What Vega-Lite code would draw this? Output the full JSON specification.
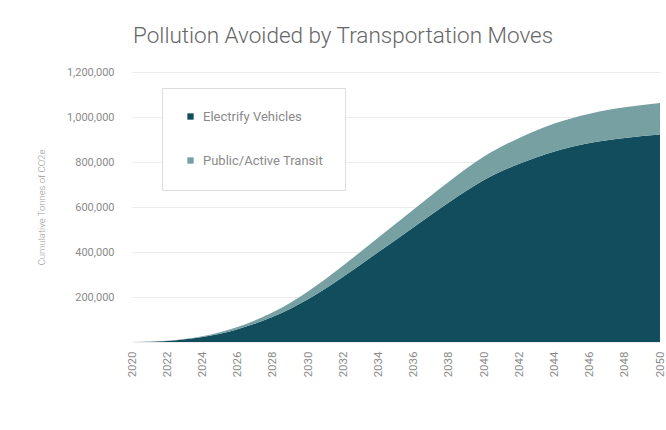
{
  "$schema": "https://vega.github.io/schema/vega-lite/v6.json",
  "autosize": "none",
  "width": 528,
  "height": 270,
  "padding": {"left": 132, "top": 72, "right": 6, "bottom": 88},
  "background": "white",
  "title": {
    "text": "Pollution Avoided by Transportation Moves",
    "anchor": "start",
    "frame": "group",
    "offset": 19,
    "font": "Roboto",
    "fontWeight": 300,
    "fontSize": 22.5,
    "color": "#666666",
    "dx": 1
  },
  "data": {
    "values": [
      {"year": 2020, "series": "Electrify Vehicles", "tonnes": 0},
      {"year": 2022, "series": "Electrify Vehicles", "tonnes": 5000},
      {"year": 2024, "series": "Electrify Vehicles", "tonnes": 22000},
      {"year": 2026, "series": "Electrify Vehicles", "tonnes": 57000},
      {"year": 2028, "series": "Electrify Vehicles", "tonnes": 112000},
      {"year": 2030, "series": "Electrify Vehicles", "tonnes": 190000},
      {"year": 2032, "series": "Electrify Vehicles", "tonnes": 290000},
      {"year": 2034, "series": "Electrify Vehicles", "tonnes": 400000},
      {"year": 2036, "series": "Electrify Vehicles", "tonnes": 510000},
      {"year": 2038, "series": "Electrify Vehicles", "tonnes": 620000},
      {"year": 2040, "series": "Electrify Vehicles", "tonnes": 720000},
      {"year": 2042, "series": "Electrify Vehicles", "tonnes": 792000},
      {"year": 2044, "series": "Electrify Vehicles", "tonnes": 847000},
      {"year": 2046, "series": "Electrify Vehicles", "tonnes": 884000},
      {"year": 2048, "series": "Electrify Vehicles", "tonnes": 907000},
      {"year": 2050, "series": "Electrify Vehicles", "tonnes": 922000},
      {"year": 2020, "series": "Public/Active Transit", "tonnes": 0},
      {"year": 2022, "series": "Public/Active Transit", "tonnes": 1000},
      {"year": 2024, "series": "Public/Active Transit", "tonnes": 4000},
      {"year": 2026, "series": "Public/Active Transit", "tonnes": 10000},
      {"year": 2028, "series": "Public/Active Transit", "tonnes": 20000},
      {"year": 2030, "series": "Public/Active Transit", "tonnes": 35000},
      {"year": 2032, "series": "Public/Active Transit", "tonnes": 50000},
      {"year": 2034, "series": "Public/Active Transit", "tonnes": 65000},
      {"year": 2036, "series": "Public/Active Transit", "tonnes": 79000},
      {"year": 2038, "series": "Public/Active Transit", "tonnes": 92000},
      {"year": 2040, "series": "Public/Active Transit", "tonnes": 104000},
      {"year": 2042, "series": "Public/Active Transit", "tonnes": 115000},
      {"year": 2044, "series": "Public/Active Transit", "tonnes": 124000},
      {"year": 2046, "series": "Public/Active Transit", "tonnes": 131000},
      {"year": 2048, "series": "Public/Active Transit", "tonnes": 136000},
      {"year": 2050, "series": "Public/Active Transit", "tonnes": 140000}
    ]
  },
  "mark": {"type": "area", "interpolate": "monotone"},
  "encoding": {
    "x": {
      "field": "year",
      "type": "quantitative",
      "scale": {"domain": [2020, 2050], "nice": false, "zero": false},
      "axis": {
        "values": [2020, 2022, 2024, 2026, 2028, 2030, 2032, 2034, 2036, 2038, 2040, 2042, 2044, 2046, 2048, 2050],
        "format": "d",
        "title": null,
        "labelAngle": -90,
        "labelFont": "Roboto",
        "labelFontSize": 11.5,
        "labelColor": "#8a8a8a",
        "labelPadding": 9,
        "ticks": false,
        "domain": false,
        "grid": false
      }
    },
    "y": {
      "field": "tonnes",
      "type": "quantitative",
      "stack": "zero",
      "scale": {"domain": [0, 1200000], "nice": false},
      "axis": {
        "values": [0, 200000, 400000, 600000, 800000, 1000000, 1200000],
        "labelExpr": "datum.value == 0 ? '' : format(datum.value, ',d')",
        "title": "Cumulative Tonnes of CO2e",
        "titleFont": "Roboto",
        "titleFontWeight": 300,
        "titleFontSize": 9.5,
        "titleColor": "#9a9a9a",
        "titlePadding": 20,
        "labelFont": "Roboto",
        "labelFontSize": 11,
        "labelColor": "#8a8a8a",
        "labelPadding": 18,
        "ticks": false,
        "domain": false,
        "gridColor": "#ececec",
        "gridWidth": 1
      }
    },
    "color": {
      "field": "series",
      "type": "nominal",
      "scale": {
        "domain": ["Electrify Vehicles", "Public/Active Transit"],
        "range": ["#114d5d", "#76a0a2"]
      },
      "legend": {
        "title": null,
        "orient": "none",
        "legendX": 30,
        "legendY": 16,
        "direction": "vertical",
        "symbolType": "square",
        "symbolSize": 40,
        "labelFont": "Roboto",
        "labelFontSize": 13,
        "labelColor": "#8a8a8a",
        "labelOffset": 6,
        "rowPadding": 30,
        "padding": 22,
        "strokeColor": "#dddddd",
        "fillColor": "white",
        "labelLimit": 200
      }
    },
    "order": {"field": "series", "sort": "ascending"}
  },
  "config": {
    "view": {"stroke": null}
  }
}
